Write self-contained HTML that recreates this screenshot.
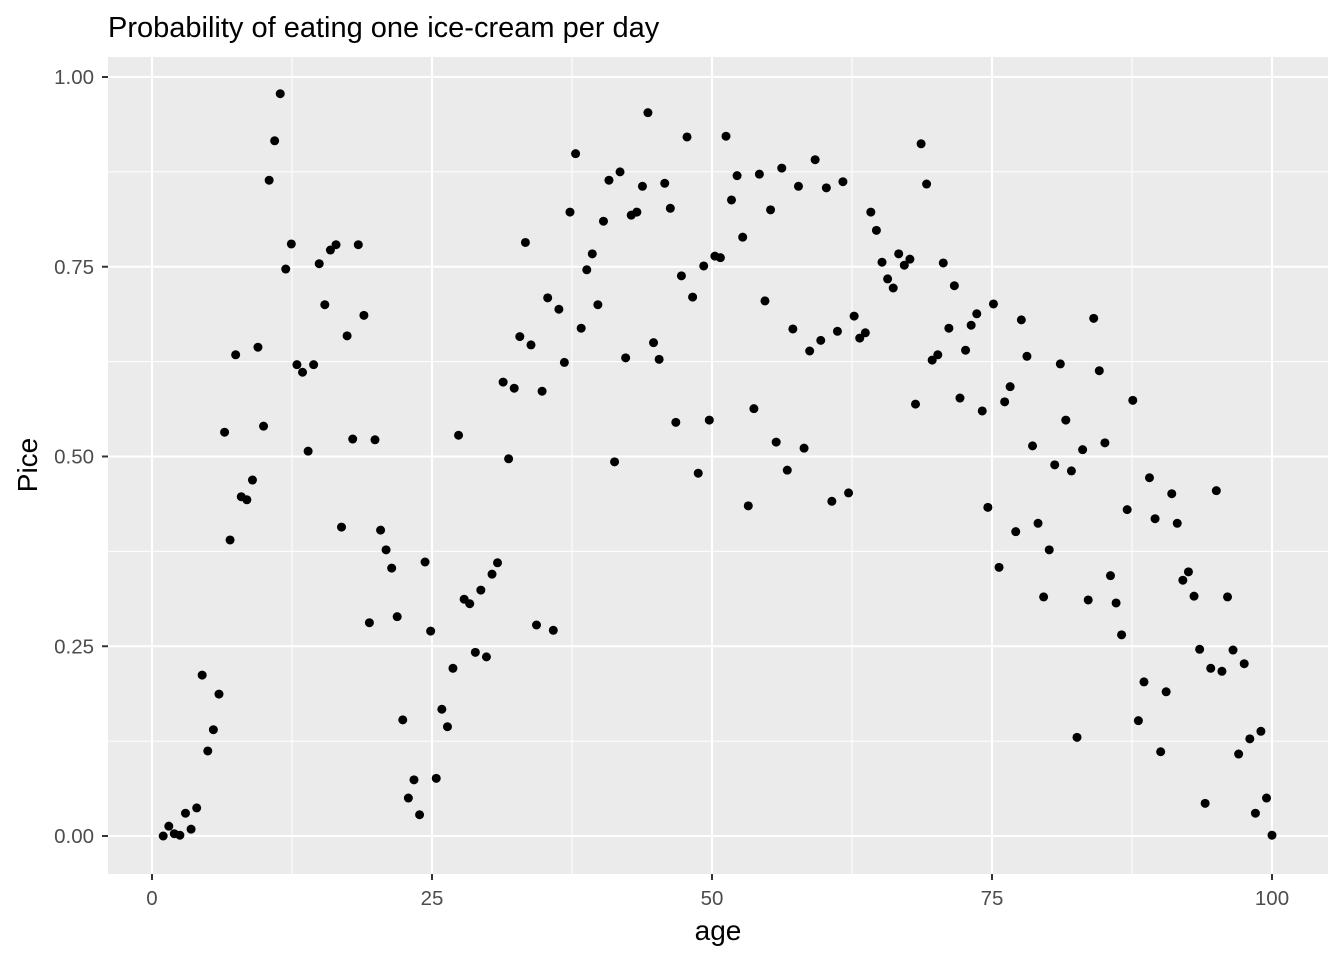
<!DOCTYPE html>
<html><head><meta charset="utf-8"><style>
html,body{margin:0;padding:0;background:#fff;}
svg text{font-family:"Liberation Sans",Arial,sans-serif;}
</style></head><body>
<svg id="chart" width="1344" height="960" xmlns="http://www.w3.org/2000/svg">
<rect width="1344" height="960" fill="#fff"/>
<text x="108" y="37" font-size="29" fill="#000">Probability of eating one ice-cream per day</text>
<rect x="108" y="57" width="1220" height="817" fill="#EBEBEB"/>
<g id="grid"></g>
<g id="points"></g>
<g id="axes"></g>
<text x="718" y="940" font-size="28" text-anchor="middle" fill="#000">age</text>
<text transform="translate(37,465) rotate(-90)" font-size="28" text-anchor="middle" fill="#000">Pice</text>
</svg>
<script>
const pice = [0,.013,.003,.001,.030,.009,.037,.212,.112,.140,.187,.532,.390,.634,.447,.443,.469,.644,.540,.864,.916,.978,.747,.780,.621,.611,.507,.621,.754,.700,.772,.779,.407,.659,.523,.779,.686,.281,.522,.403,.377,.353,.289,.153,.050,.074,.028,.361,.270,.076,.167,.144,.221,.528,.312,.306,.242,.324,.236,.345,.360,.598,.497,.590,.658,.782,.647,.278,.586,.709,.271,.694,.624,.822,.899,.669,.746,.767,.700,.810,.864,.493,.875,.630,.818,.822,.856,.953,.650,.628,.860,.827,.545,.738,.921,.710,.478,.751,.548,.764,.762,.922,.838,.870,.789,.435,.563,.872,.705,.825,.519,.880,.482,.668,.856,.511,.639,.891,.653,.854,.441,.665,.862,.452,.685,.656,.663,.822,.798,.756,.734,.722,.767,.752,.760,.569,.912,.859,.627,.634,.755,.669,.725,.577,.640,.673,.688,.560,.433,.701,.354,.572,.592,.401,.680,.632,.514,.412,.315,.377,.489,.622,.548,.481,.130,.509,.311,.682,.613,.518,.343,.307,.265,.430,.574,.152,.203,.472,.418,.111,.190,.451,.412,.337,.348,.316,.246,.043,.221,.455,.217,.315,.245,.108,.227,.128,.030,.138,.050,.001];
const ages = [1,1.5,1.99,2.49,2.99,3.49,3.99,4.48,4.98,5.48,
5.98,6.48,6.97,7.47,7.97,8.47,8.97,9.46,9.96,10.46,
10.95,11.45,11.94,12.44,12.94,13.44,13.94,14.43,14.93,15.43,
15.93,16.43,16.92,17.42,17.92,18.42,18.92,19.41,19.91,20.41,
20.9,21.4,21.89,22.39,22.89,23.39,23.89,24.38,24.88,25.38,
25.88,26.38,26.87,27.37,27.87,28.37,28.87,29.36,29.86,30.36,
30.85,31.35,31.84,32.34,32.84,33.34,33.84,34.33,34.83,35.33,
35.83,36.33,36.82,37.32,37.82,38.32,38.82,39.31,39.81,40.31,
40.8,41.3,41.79,42.29,42.79,43.29,43.79,44.28,44.78,45.28,
45.78,46.28,46.77,47.27,47.77,48.27,48.77,49.26,49.76,50.26,
50.75,51.25,51.74,52.24,52.74,53.24,53.74,54.23,54.73,55.23,
55.73,56.23,56.72,57.22,57.72,58.22,58.72,59.21,59.71,60.21,
60.7,61.2,61.69,62.19,62.69,63.19,63.69,64.18,64.68,65.18,
65.68,66.18,66.67,67.17,67.67,68.17,68.67,69.16,69.66,70.16,
70.65,71.15,71.64,72.14,72.64,73.14,73.64,74.13,74.63,75.13,
75.63,76.13,76.62,77.12,77.62,78.12,78.62,79.11,79.61,80.11,
80.6,81.1,81.59,82.09,82.59,83.09,83.59,84.08,84.58,85.08,
85.58,86.08,86.57,87.07,87.57,88.07,88.57,89.06,89.56,90.06,
90.55,91.05,91.54,92.04,92.54,93.04,93.54,94.03,94.53,95.03,
95.53,96.03,96.52,97.02,97.52,98.02,98.52,99.01,99.51,100];
const xTicks = [0,25,50,75,100];
const xTickLabels = ["0","25","50","75","100"];
const yTicks = [0,0.25,0.5,0.75,1];
const yTickLabels = ["0.00","0.25","0.50","0.75","1.00"];

const NS="http://www.w3.org/2000/svg";
const L=108,R=1328,T=57,B=874;
const xs=v=>152+v*11.2;
const ys=v=>836-v*759;
function mk(tag,attrs,parent){const e=document.createElementNS(NS,tag);for(const k in attrs)e.setAttribute(k,attrs[k]);parent.appendChild(e);return e;}
const grid=document.getElementById('grid'),axes=document.getElementById('axes'),pts=document.getElementById('points');
for(let i=0;i<xTicks.length-1;i++){const v=(xTicks[i]+xTicks[i+1])/2;const g=mk('line',{x1:xs(v),x2:xs(v),y1:T,y2:B,stroke:'#fff','stroke-width':1},grid);

}
for(let i=0;i<yTicks.length-1;i++){const v=(yTicks[i]+yTicks[i+1])/2;const g=mk('line',{x1:L,x2:R,y1:ys(v),y2:ys(v),stroke:'#fff','stroke-width':1},grid);

}
xTicks.forEach((v,i)=>{
 const g=mk('line',{x1:xs(v),x2:xs(v),y1:T,y2:B,stroke:'#fff','stroke-width':2},grid);
 
 
 const t=mk('line',{x1:xs(v),x2:xs(v),y1:B,y2:B+6,stroke:'#333','stroke-width':2},axes);
 
 
 const lb=mk('text',{x:xs(v),y:905,'font-size':20.5,fill:'#4D4D4D','text-anchor':'middle'},axes);lb.textContent=xTickLabels[i];
 
 
});
yTicks.forEach((v,i)=>{
 const g=mk('line',{x1:L,x2:R,y1:ys(v),y2:ys(v),stroke:'#fff','stroke-width':2},grid);
 
 
 const t=mk('line',{x1:L-6,x2:L,y1:ys(v),y2:ys(v),stroke:'#333','stroke-width':2},axes);
 
 
 const lb=mk('text',{x:L-14,y:ys(v)+7,'font-size':20.5,fill:'#4D4D4D','text-anchor':'end'},axes);lb.textContent=yTickLabels[i];
 
 
});
const n=Math.min(ages.length,pice.length);
for(let i=0;i<n;i++){
 const c=mk('circle',{cx:xs(ages[i]),cy:ys(pice[i]),r:4.5,fill:'#000'},pts);
 
 
}
</script>
</body></html>
